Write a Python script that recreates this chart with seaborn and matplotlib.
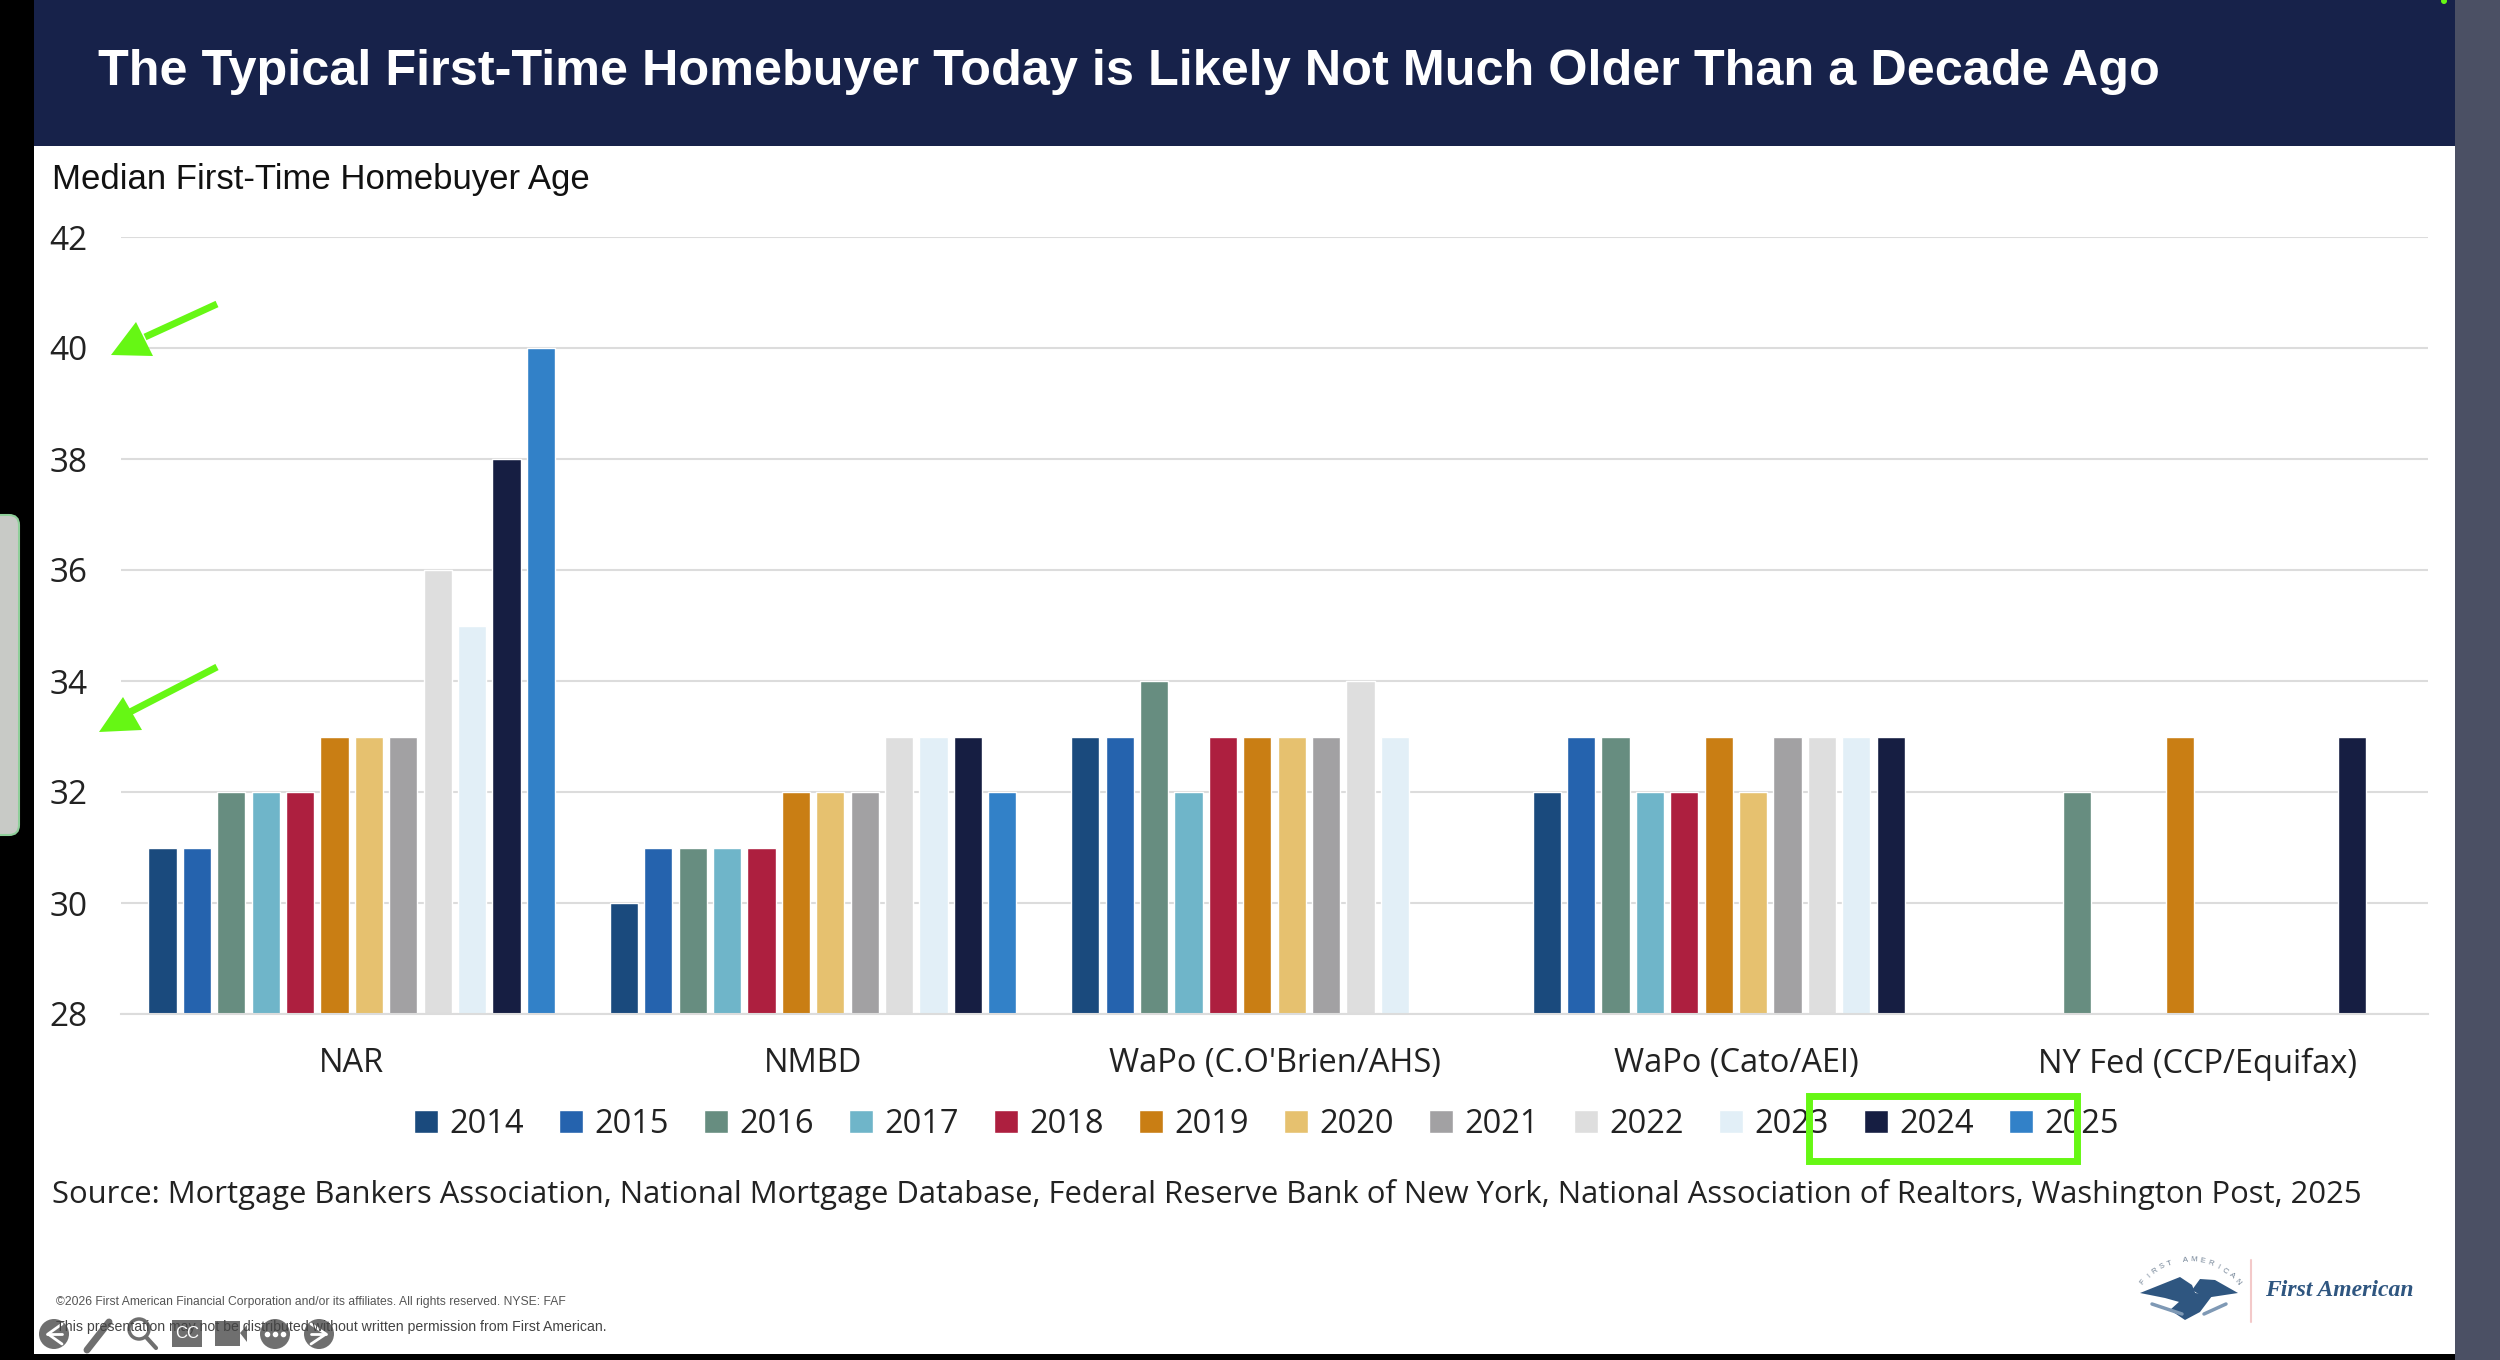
import numpy as np
import pandas as pd
import seaborn as sns
from matplotlib import pyplot as plt
from matplotlib.patches import Circle, FancyBboxPatch, Polygon, Rectangle

sources = ["NAR", "NMBD", "WaPo (C.O'Brien/AHS)", "WaPo (Cato/AEI)", "NY Fed (CCP/Equifax)"]
years = ["2014", "2015", "2016", "2017", "2018", "2019", "2020", "2021", "2022", "2023", "2024", "2025"]
nar = [31, 31, 32, 32, 32, 33, 33, 33, 36, 35, 38, 40]
nmbd = [30, 31, 31, 31, 31, 32, 32, 32, 33, 33, 33, 32]
wapo_obrien = [33, 33, 34, 32, 33, 33, 33, 33, 34, 33, None, None]
wapo_cato = [32, 33, 33, 32, 32, 33, 32, 33, 33, 33, 33, None]
ny_fed = [None, None, 32, None, None, 33, None, None, None, None, 33, None]
yticks = [28, 30, 32, 34, 36, 38, 40, 42]

year_colors = ["#1a4a7d", "#2563ae", "#678d80", "#6fb5c9", "#ad1f3f", "#c97e14",
               "#e6c16f", "#a2a1a3", "#dedede", "#e2eff7", "#161e42", "#3281c8"]

NAVY = "#17224a"
GREEN = "#66f714"
GRID = "#dcdcdc"
TOOL = "#6f6f6f"
W, H = 2500, 1360

sns.set_theme(style="white")
plt.rcParams["font.family"] = ["Open Sans", "DejaVu Sans"]

rows = []
for src, vals in zip(sources, [nar, nmbd, wapo_obrien, wapo_cato, ny_fed]):
    for yr, v in zip(years, vals):
        rows.append({"source": src, "year": yr, "age": v})
df = pd.DataFrame(rows)
df["age"] = df["age"].astype(float)

fig = plt.figure(figsize=(25, 13.6), dpi=100, facecolor="black")

# slide background, in pixel coordinates
bg = fig.add_axes([0, 0, 1, 1], zorder=0)
bg.set_xlim(0, W)
bg.set_ylim(H, 0)
bg.axis("off")
bg.add_patch(Rectangle((34, 0), 2421, 146, color=NAVY, lw=0))
bg.add_patch(Rectangle((34, 146), 2421, 1208, color="white", lw=0))
bg.add_patch(Rectangle((2455, 0), 45, H, color="#4b5064", lw=0))
bg.add_patch(Circle((2444, 1), 3, color=GREEN, lw=0))
bg.add_patch(FancyBboxPatch((-20, 515), 39, 320, boxstyle="round,pad=0,rounding_size=10",
                            fc="#c8cac6", ec="#8fcf9a", lw=1.5))

# the chart
ax = fig.add_axes([121 / W, 1 - 1014 / H, (2428 - 121) / W, (1014 - 237) / H], zorder=1)
ax.patch.set_alpha(0)
sns.barplot(data=df, x="source", y="age", hue="year", order=sources, hue_order=years,
            palette=year_colors, width=0.895, gap=0.18, saturation=1, errorbar=None, ax=ax)
ax.set_ylim(28, 42)
ax.set_yticks(yticks)
ax.set_xlabel("")
ax.set_ylabel("")
ax.grid(axis="y", color=GRID, lw=1.5)
ax.set_axisbelow(True)
sns.despine(ax=ax, left=True, top=True, right=True)
ax.spines["bottom"].set_color(GRID)
ax.spines["bottom"].set_linewidth(1.5)
ax.tick_params(axis="y", length=0, pad=24, labelsize=24, labelcolor="#222222")
ax.tick_params(axis="x", length=0, pad=24, labelsize=23.5, labelcolor="#222222")
sns.move_legend(ax, "center", bbox_to_anchor=(0.4965, -0.1425), ncol=12, frameon=False, title=None,
                fontsize=23.5, handlelength=0.72, handleheight=0.72, handletextpad=0.35,
                columnspacing=1.09, labelcolor="#222222")

# texts and annotations on top
top = fig.add_axes([0, 0, 1, 1], zorder=2)
top.set_xlim(0, W)
top.set_ylim(H, 0)
top.axis("off")
top.patch.set_alpha(0)

arial = ["Liberation Sans", "DejaVu Sans"]
top.text(98, 72, "The Typical First-Time Homebuyer Today is Likely Not Much Older Than a Decade Ago",
         color="white", fontsize=36.3, fontweight="bold", family=arial, va="center", ha="left")
top.text(52, 179, "Median First-Time Homebuyer Age", color="#111111", fontsize=25, family=arial,
         va="center", ha="left")
top.text(52, 1194, "Source: Mortgage Bankers Association, National Mortgage Database, Federal Reserve Bank of "
         "New York, National Association of Realtors, Washington Post, 2025",
         color="#222222", fontsize=22.3, va="center", ha="left")
top.text(56, 1302, "\u00a92026 First American Financial Corporation and/or its affiliates. All rights reserved. NYSE: FAF",
         color="#555555", fontsize=8.7, family=arial, va="center", ha="left")
top.text(56, 1327, "This presentation may not be distributed without written permission from First American.",
         color="#444444", fontsize=10.2, family=arial, va="center", ha="left")

# green markup
top.add_patch(Rectangle((1808.5, 1095.5), 268, 65, fill=False, ec=GREEN, lw=5))
for tail, neck, head in [((217, 304), (145, 337), [(111, 355), (136, 322), (153, 356)]),
                         ((217, 667), (130, 712), [(99, 732), (123, 697), (142, 730)])]:
    top.plot([tail[0], neck[0]], [tail[1], neck[1]], color=GREEN, lw=5, solid_capstyle="butt")
    top.add_patch(Polygon(head, color=GREEN, lw=0))

# player toolbar
for cx in [54, 275, 319]:
    top.add_patch(Circle((cx, 1334), 15, color=TOOL, lw=0))
top.plot([62, 48, 62], [1324, 1334, 1344], color="white", lw=2)
top.plot([47, 62], [1334, 1334], color="white", lw=2)
top.plot([311, 326, 311], [1324, 1334, 1344], color="white", lw=2)
top.plot([311, 326], [1334, 1334], color="white", lw=2)
top.plot([267, 275, 283], [1334, 1334, 1334], ls="none", marker="o", ms=3, color="white")
top.plot([87, 109], [1350, 1322], color=TOOL, lw=5)
top.add_patch(Circle((139, 1329), 10, fill=False, ec=TOOL, lw=2.5))
top.plot([146, 156], [1337, 1348], color=TOOL, lw=3)
top.add_patch(Rectangle((172, 1320), 30, 27, color=TOOL, lw=0))
top.text(187, 1334, "CC", color="white", fontsize=12, family=arial, ha="center", va="center")
top.add_patch(Rectangle((215, 1321), 25, 25, color=TOOL, lw=0))
top.add_patch(Polygon([(240, 1333), (247, 1325), (247, 1342)], color=TOOL, lw=0))

# logo
LOGO = "#2f5680"
top.plot([2251, 2251], [1260, 1322], color="#f3c9c9", lw=1.5)
top.text(2265, 1291, "First American", color=LOGO, fontsize=17, family=["Liberation Serif"],
         fontstyle="italic", fontweight="bold", va="center", ha="left")
top.add_patch(Polygon([(2140, 1293), (2170, 1281), (2180, 1277), (2192, 1285), (2196, 1295),
                       (2190, 1305), (2165, 1298)], color=LOGO, lw=0))
top.add_patch(Polygon([(2238, 1293), (2215, 1280), (2200, 1279), (2192, 1290), (2205, 1298)],
                      color=LOGO, lw=0))
top.add_patch(Polygon([(2190, 1292), (2212, 1296), (2200, 1312), (2185, 1320), (2170, 1310)],
                      color=LOGO, lw=0))
top.plot([2152, 2182], [1304, 1314], color="#7f99b5", lw=2.5)
top.plot([2226, 2204], [1304, 1314], color="#7f99b5", lw=2.5)
arc_text = "FIRST AMERICAN"
for ch, ang in zip(arc_text, np.linspace(-50, 50, len(arc_text))):
    a = np.radians(ang)
    top.text(2190 + 61.6 * np.sin(a), 1321.6 - 61.6 * np.cos(a), ch, color="#6d7f92", fontsize=5.5,
             family=arial, rotation=-ang, ha="center", va="center")

fig.savefig("out.png", dpi=100, facecolor=fig.get_facecolor())
